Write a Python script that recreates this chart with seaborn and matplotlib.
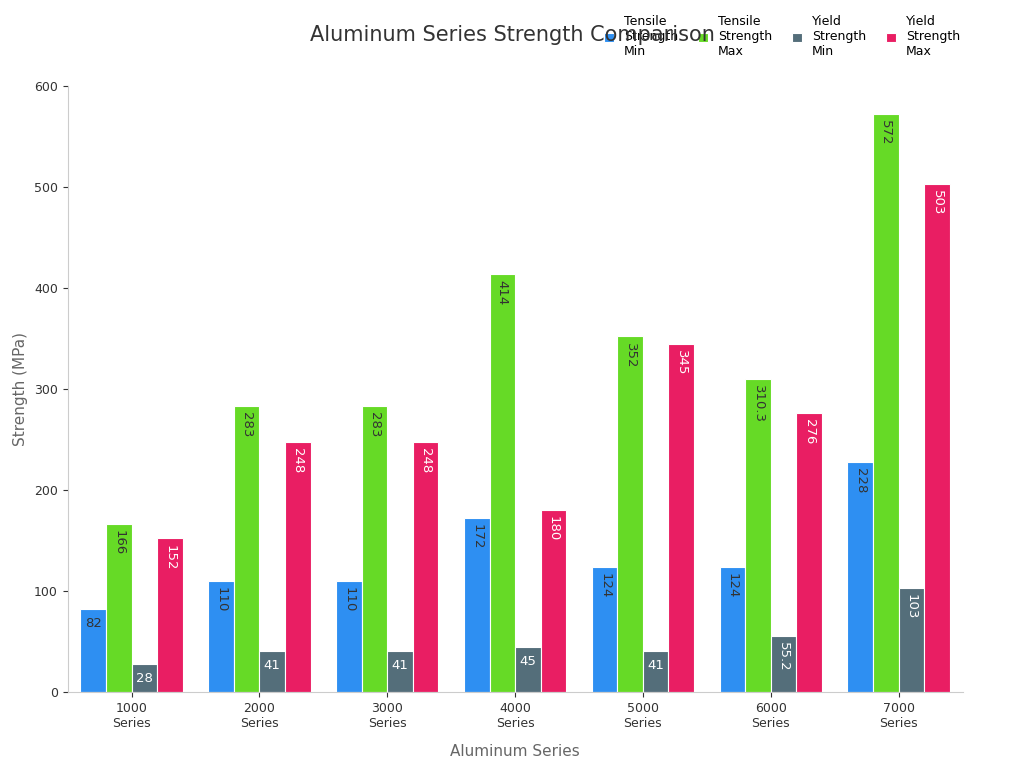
import matplotlib
matplotlib.use("Agg")
import matplotlib.pyplot as plt
import seaborn as sns
import pandas as pd

categories = ["1000\nSeries", "2000\nSeries", "3000\nSeries", "4000\nSeries", "5000\nSeries", "6000\nSeries", "7000\nSeries"]
series_names = ["Tensile\nStrength\nMin", "Tensile\nStrength\nMax", "Yield\nStrength\nMin", "Yield\nStrength\nMax"]
tensile_min = [82, 110, 110, 172, 124, 124, 228]
tensile_max = [166, 283, 283, 414, 352, 310.3, 572]
yield_min = [28, 41, 41, 45, 41, 55.2, 103]
yield_max = [152, 248, 248, 180, 345, 276, 503]
colors = ["#2e8ff2", "#66da26", "#546e7a", "#e91e63"]
label_colors = ["#333333", "#333333", "white", "white"]

rows = []
for name, vals in zip(series_names, [tensile_min, tensile_max, yield_min, yield_max]):
    for c, v in zip(categories, vals):
        rows.append({"cat": c, "series": name, "value": v})
df = pd.DataFrame(rows)

fig = plt.figure(figsize=(10.24, 7.68), dpi=100)
ax = fig.add_axes([0.066, 0.099, 0.874, 0.789])
sns.barplot(data=df, x="cat", y="value", hue="series", palette=colors, width=0.8, saturation=1,
            edgecolor="white", linewidth=0.8, ax=ax, legend=True)
ax.set_ylim(0, 600)
ax.set_yticks(range(0, 601, 100))
for i, cont in enumerate(ax.containers):
    for bar in cont:
        h = bar.get_height()
        x = bar.get_x() + bar.get_width() / 2
        txt = f"{h:g}"
        if len(txt) <= 2:
            ax.text(x, h - 8, txt, ha="center", va="top", color=label_colors[i], fontsize=9.5)
        else:
            ax.text(x, h - 6, txt, ha="center", va="top", rotation=-90, color=label_colors[i], fontsize=9.5)
for s in ["top", "right"]:
    ax.spines[s].set_visible(False)
for s in ["left", "bottom"]:
    ax.spines[s].set_color("#cccccc")
ax.tick_params(colors="#333333", labelsize=9)
ax.set_xlabel("Aluminum Series", fontsize=11, color="#666666", labelpad=10)
ax.set_ylabel("Strength (MPa)", fontsize=11, color="#666666")
fig.text(0.5, 0.955, "Aluminum Series Strength Comparison", ha="center", va="center", fontsize=15, color="#333333")
ax.legend(loc="upper right", bbox_to_anchor=(1.01, 1.135), ncol=4, frameon=False, fontsize=9,
          handlelength=0.8, handleheight=0.8, columnspacing=1.6, title=None)
fig.savefig("out.png", dpi=100)
